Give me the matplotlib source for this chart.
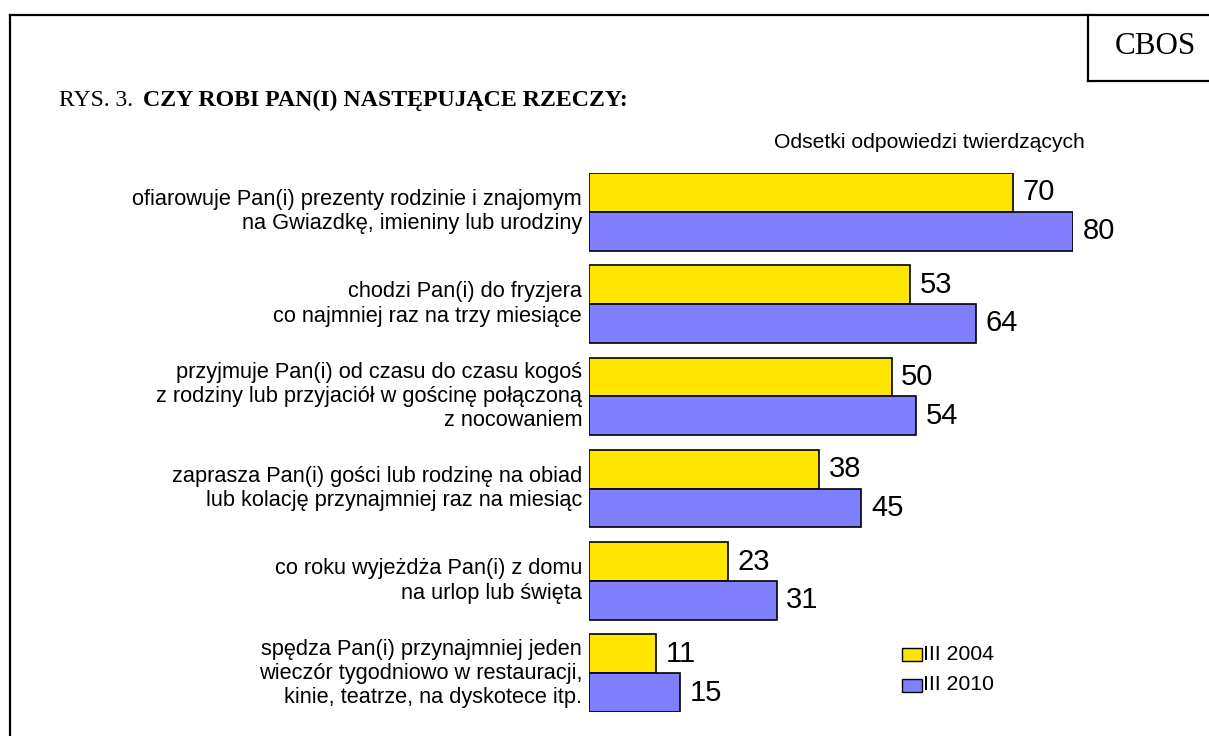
import matplotlib
matplotlib.use("Agg")
import matplotlib.pyplot as plt
from matplotlib.patches import Rectangle
import numpy as np

plt.rcParams['font.family'] = ['Liberation Sans', 'DejaVu Sans']

# dane z rysunku
kategorie = [
    "ofiarowuje Pan(i) prezenty rodzinie i znajomym\nna Gwiazdkę, imieniny lub urodziny",
    "chodzi Pan(i) do fryzjera\nco najmniej raz na trzy miesiące",
    "przyjmuje Pan(i) od czasu do czasu kogoś\nz rodziny lub przyjaciół w gościnę połączoną\nz nocowaniem",
    "zaprasza Pan(i) gości lub rodzinę na obiad\nlub kolację przynajmniej raz na miesiąc",
    "co roku wyjeżdża Pan(i) z domu\nna urlop lub święta",
    "spędza Pan(i) przynajmniej jeden\nwieczór tygodniowo w restauracji,\nkinie, teatrze, na dyskotece itp.",
]
wyniki_2004 = [70, 53, 50, 38, 23, 11]
wyniki_2010 = [80, 64, 54, 45, 31, 15]
serie = ["III 2004", "III 2010"]
kolory = ["#FFE600", "#8080FF"]

W, H = 1209, 736
fig = plt.figure(figsize=(W / 100, H / 100), dpi=100)

def fx(px):
    return px / W

def fy(py):
    return 1 - py / H

# ramka zewnetrzna i ramka CBOS
fig.add_artist(plt.Line2D([fx(10), fx(10)], [fy(15), -0.01], color='black', lw=1.6))
fig.add_artist(plt.Line2D([fx(10), 1.01], [fy(15), fy(15)], color='black', lw=1.6))
fig.add_artist(plt.Line2D([fx(1088), fx(1088)], [fy(15), fy(81)], color='black', lw=1.6))
fig.add_artist(plt.Line2D([fx(1088), 1.01], [fy(81), fy(81)], color='black', lw=1.6))
fig.text(fx(1155), fy(46), "CBOS", family='Liberation Serif', fontsize=22.4,
         ha='center', va='center')

# tytul
fig.text(fx(59), fy(106), "RYS. 3.", family='Liberation Serif', fontsize=17,
         ha='left', va='baseline')
fig.text(fx(143), fy(106), "CZY ROBI PAN(I) NASTĘPUJĄCE RZECZY:", family='Liberation Serif',
         fontsize=17.2, fontweight='bold', ha='left', va='baseline')
fig.text(fx(929), fy(142), "Odsetki odpowiedzi twierdzących", fontsize=15.2,
         ha='center', va='center')

# wykres
ax = fig.add_axes([fx(589), fy(712), fx(1073) - fx(589), fy(173) - fy(712)])
y = np.arange(len(kategorie))
h = 0.42
ax.barh(y - h / 2, wyniki_2004, height=h, color=kolory[0], edgecolor='black', linewidth=1.2)
ax.barh(y + h / 2, wyniki_2010, height=h, color=kolory[1], edgecolor='black', linewidth=1.2)
ax.set_xlim(0, 80)
ax.set_ylim(len(kategorie) - 1 + h, -h)
ax.axis('off')

for i in range(len(kategorie)):
    ax.annotate(str(wyniki_2004[i]), (wyniki_2004[i], y[i] - h / 2), xytext=(7, 0),
                textcoords='offset points', va='center', ha='left', fontsize=21,
                annotation_clip=False)
    ax.annotate(str(wyniki_2010[i]), (wyniki_2010[i], y[i] + h / 2), xytext=(7, 0),
                textcoords='offset points', va='center', ha='left', fontsize=21,
                annotation_clip=False)
    ax.annotate(kategorie[i], (0, y[i]), xytext=(-5, 0), textcoords='offset points',
                va='center', ha='right', multialignment='right', fontsize=15.7,
                linespacing=1.2, annotation_clip=False)

# legenda
for j, (nazwa, kolor) in enumerate(zip(serie, kolory)):
    yc = 654 + j * 31
    fig.add_artist(Rectangle((fx(902), fy(yc + 7)), fx(20), 13 / H, facecolor=kolor,
                             edgecolor='black', linewidth=1.0, transform=fig.transFigure))
    fig.text(fx(923), fy(yc), nazwa, fontsize=15.3, ha='left', va='center')

fig.savefig("out.png", dpi=100, facecolor='white')
